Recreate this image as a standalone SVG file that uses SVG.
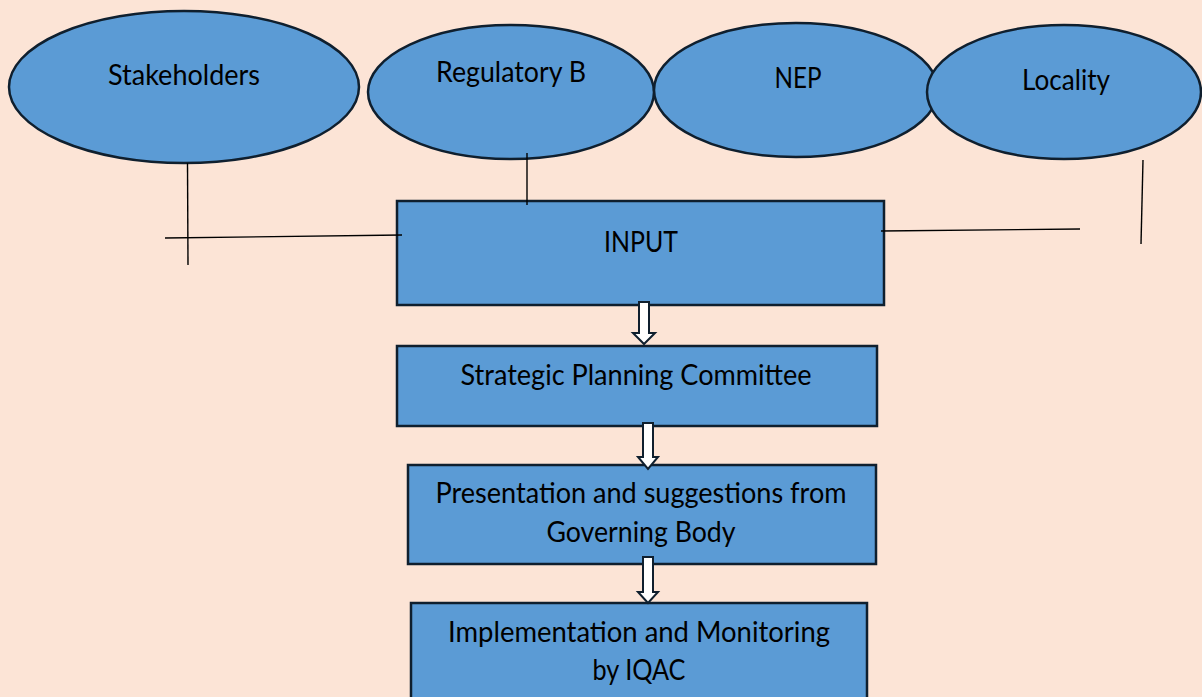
<svg xmlns="http://www.w3.org/2000/svg" width="1202" height="697" viewBox="0 0 1202 697">
<style>
.shape{fill:#5B9BD5;stroke:#0F1F2E;stroke-width:2.5}
.t{font-family:"Lato","Open Sans","Liberation Sans",sans-serif;font-size:28px;fill:#000;text-anchor:middle}
.ln{stroke:#000;stroke-width:1.4;fill:none}
.ar{fill:#fff;stroke:#0F1F2E;stroke-width:2;stroke-linejoin:miter}
</style>
<rect x="0" y="0" width="1202" height="697" fill="#FCE4D6"/>
<g id="stakeholders">
<ellipse class="shape" cx="184" cy="87" rx="175" ry="76"/>
<text class="t" x="184" y="85" textLength="152" lengthAdjust="spacingAndGlyphs">Stakeholders</text>
</g>
<g id="regulatory">
<ellipse class="shape" cx="511" cy="92" rx="143" ry="67"/>
<text class="t" x="511" y="82" textLength="150" lengthAdjust="spacingAndGlyphs">Regulatory B</text>
</g>
<g id="nep">
<ellipse class="shape" cx="796" cy="90" rx="142" ry="67"/>
<text class="t" x="798" y="88" textLength="47" lengthAdjust="spacingAndGlyphs">NEP</text>
</g>
<g id="locality">
<ellipse class="shape" cx="1064" cy="92" rx="137" ry="67"/>
<text class="t" x="1066" y="90" textLength="88" lengthAdjust="spacingAndGlyphs">Locality</text>
</g>
<g id="input">
<rect class="shape" x="397" y="201" width="487" height="104"/>
<text class="t" x="641" y="252" textLength="74" lengthAdjust="spacingAndGlyphs">INPUT</text>
</g>
<g id="spc">
<rect class="shape" x="397" y="346" width="480" height="80"/>
<text class="t" x="636" y="385" textLength="351" lengthAdjust="spacingAndGlyphs">Strategic Planning Committee</text>
</g>
<g id="presentation">
<rect class="shape" x="408" y="465" width="468" height="99"/>
<text class="t" x="641" y="503" textLength="411" lengthAdjust="spacingAndGlyphs">Presentation and suggestions from</text>
<text class="t" x="641" y="542" textLength="189" lengthAdjust="spacingAndGlyphs">Governing Body</text>
</g>
<g id="implementation">
<rect class="shape" x="411" y="603" width="456" height="110"/>
<text class="t" x="639" y="642" textLength="382" lengthAdjust="spacingAndGlyphs">Implementation and Monitoring</text>
<text class="t" x="639" y="680" textLength="93" lengthAdjust="spacingAndGlyphs">by IQAC</text>
</g>
<g id="connectors">
<line class="ln" x1="187.5" y1="163" x2="188" y2="265"/>
<line class="ln" x1="165" y1="238" x2="402" y2="235"/>
<line class="ln" x1="527" y1="153" x2="527" y2="205"/>
<line class="ln" x1="881" y1="231" x2="1080" y2="229"/>
<line class="ln" x1="1143" y1="160" x2="1141" y2="244"/>
<path class="ar" d="M639,302 L649,302 L649,333 L655,333 L644,344 L633,333 L639,333 Z"/>
<path class="ar" d="M643,423 L653,423 L653,457 L658,457 L648,469 L638,457 L643,457 Z"/>
<path class="ar" d="M643,557 L653,557 L653,592 L658,592 L648,603 L638,592 L643,592 Z"/>
</g>
</svg>
